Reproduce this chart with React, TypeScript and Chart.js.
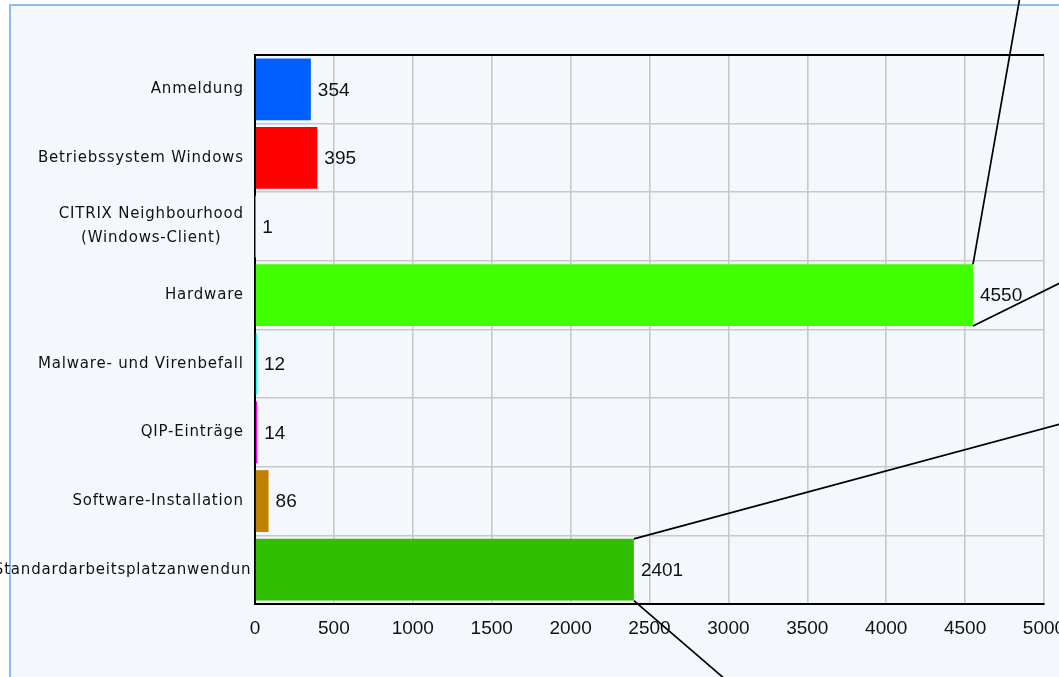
import React, { useEffect, useRef } from "react";
import { Chart, registerables } from "chart.js";

Chart.register(...registerables);

// Ticket categories (top to bottom) and their counts
const categories: (string | string[])[] = [
  "Anmeldung",
  "Betriebssystem Windows",
  ["CITRIX Neighbourhood", "(Windows-Client)"],
  "Hardware",
  "Malware- und Virenbefall",
  "QIP-Einträge",
  "Software-Installation",
  "Standardarbeitsplatzanwendungen",
];
const ticketCounts = [354, 395, 1, 4550, 12, 14, 86, 2401];
const barColors = [
  "#0060ff",
  "#ff0000",
  "#ffd800",
  "#40ff00",
  "#00ffff",
  "#ff00ff",
  "#c08000",
  "#30c000",
];
const axisMin = 0;
const axisMax = 5000;
const axisStep = 500;

const LABEL_FONT = '15px "DejaVu Sans"';
const LABEL_SPACING = 0.8;
const NUMBER_FONT = '19px "Liberation Sans"';
const TEXT_COLOR = "#111111";
const GRID_COLOR = "#c8c8c8";

// Category names left of the plot: right-aligned blocks, multi-line entries
// centred line by line; names wider than the label column are centred in it
// and clipped at the plot edge.
const categoryLabelPlugin = {
  id: "categoryLabels",
  afterDraw(chart: any) {
    const { ctx, chartArea } = chart;
    const yScale = chart.scales.y;
    ctx.save();
    ctx.beginPath();
    ctx.rect(0, 0, chartArea.left - 3, chart.height);
    ctx.clip();
    ctx.font = LABEL_FONT;
    (ctx as any).letterSpacing = `${LABEL_SPACING}px`;
    ctx.fillStyle = TEXT_COLOR;
    ctx.textBaseline = "middle";
    ctx.textAlign = "center";
    const rightEdge = chartArea.left - 12;
    const columnLeft = yScale.left;
    const columnCenter = (columnLeft + chartArea.left) / 2 + 5;
    const lineHeight = 24;
    categories.forEach((label, i) => {
      const lines = Array.isArray(label) ? label : [label];
      const y = yScale.getPixelForTick(i);
      const widths = lines.map((l) => ctx.measureText(l).width - LABEL_SPACING);
      const blockW = Math.max(...widths);
      const cx =
        blockW > rightEdge - columnLeft ? columnCenter : rightEdge - blockW / 2;
      lines.forEach((line, k) => {
        ctx.fillText(
          line,
          cx + LABEL_SPACING / 2,
          y + (k - (lines.length - 1) / 2) * lineHeight
        );
      });
    });
    ctx.restore();
  },
};

// Count printed just past the end of each bar
const valueLabelPlugin = {
  id: "valueLabels",
  afterDatasetsDraw(chart: any) {
    const { ctx } = chart;
    const meta = chart.getDatasetMeta(0);
    ctx.save();
    ctx.font = NUMBER_FONT;
    ctx.fillStyle = TEXT_COLOR;
    ctx.textAlign = "left";
    ctx.textBaseline = "middle";
    meta.data.forEach((bar: any, i: number) => {
      ctx.fillText(String(ticketCounts[i]), bar.x + 7, bar.y + 1);
    });
    ctx.restore();
  },
};

// Thin black leader strokes leaving the corners of the two longest bars
const leaderPlugin = {
  id: "leaders",
  afterDraw(chart: any) {
    const { ctx } = chart;
    const meta = chart.getDatasetMeta(0);
    const leaders = [
      { index: 3, edge: -1, dx: 46, dy: -262 },
      { index: 3, edge: 1, dx: 89, dy: -44 },
      { index: 7, edge: -1, dx: 427, dy: -115 },
      { index: 7, edge: 1, dx: 87, dy: 75 },
    ];
    ctx.save();
    ctx.strokeStyle = "#000";
    ctx.lineWidth = 1.7;
    leaders.forEach(({ index, edge, dx, dy }) => {
      const bar = meta.data[index];
      const x0 = bar.x;
      const y0 = bar.y + (edge * bar.height) / 2;
      ctx.beginPath();
      ctx.moveTo(x0, y0);
      ctx.lineTo(x0 + dx * 3, y0 + dy * 3);
      ctx.stroke();
    });
    ctx.restore();
  },
};

export default function App() {
  const canvasRef = useRef<HTMLCanvasElement>(null);

  useEffect(() => {
    const canvas = canvasRef.current;
    if (!canvas) return;
    const chart = new Chart(canvas, {
      type: "bar",
      data: {
        labels: categories as any,
        datasets: [
          {
            data: ticketCounts,
            backgroundColor: barColors,
            borderWidth: 0,
            barPercentage: 0.9,
            categoryPercentage: 1,
          },
        ],
      },
      options: {
        indexAxis: "y",
        responsive: false,
        animation: false,
        devicePixelRatio: 1,
        layout: { padding: { left: 10, top: 55, right: 15, bottom: 0 } },
        plugins: {
          legend: { display: false },
          tooltip: { enabled: false },
        },
        scales: {
          x: {
            type: "linear",
            min: axisMin,
            max: axisMax,
            ticks: {
              stepSize: axisStep,
              autoSkip: false,
              maxRotation: 0,
              color: TEXT_COLOR,
              font: { family: "Liberation Sans", size: 19 },
              padding: 13,
              callback: (value: any) => String(value),
            },
            grid: { color: GRID_COLOR, lineWidth: 1.6, drawTicks: false },
            border: { color: "#000", width: 2 },
            afterFit(scale: any) {
              scale.height = 73;
              scale.paddingLeft = 0;
              scale.paddingRight = 0;
            },
          },
          y: {
            type: "category",
            ticks: { display: false },
            grid: {
              drawTicks: false,
              color: (c: any) => (c.index === 0 ? "#000" : GRID_COLOR),
              lineWidth: (c: any) => (c.index === 0 ? 2 : 1.6),
            },
            border: { color: "#000", width: 2 },
            afterFit(scale: any) {
              scale.width = 245;
              scale.paddingTop = 0;
              scale.paddingBottom = 0;
            },
          },
        },
      },
      plugins: [valueLabelPlugin, categoryLabelPlugin, leaderPlugin],
    });
    return () => chart.destroy();
  }, []);

  return (
    <div
      style={{
        position: "fixed",
        left: 0,
        top: 0,
        width: 1059,
        height: 677,
        overflow: "hidden",
        background: "#ffffff",
      }}
    >
      <div
        style={{
          position: "absolute",
          left: 9,
          top: 4,
          width: 1120,
          height: 740,
          border: "2px solid #8dbdf7",
          background: "#f4f8fd",
        }}
      />
      <canvas
        ref={canvasRef}
        width={1059}
        height={677}
        style={{ position: "absolute", left: 0, top: 0 }}
      />
    </div>
  );
}
